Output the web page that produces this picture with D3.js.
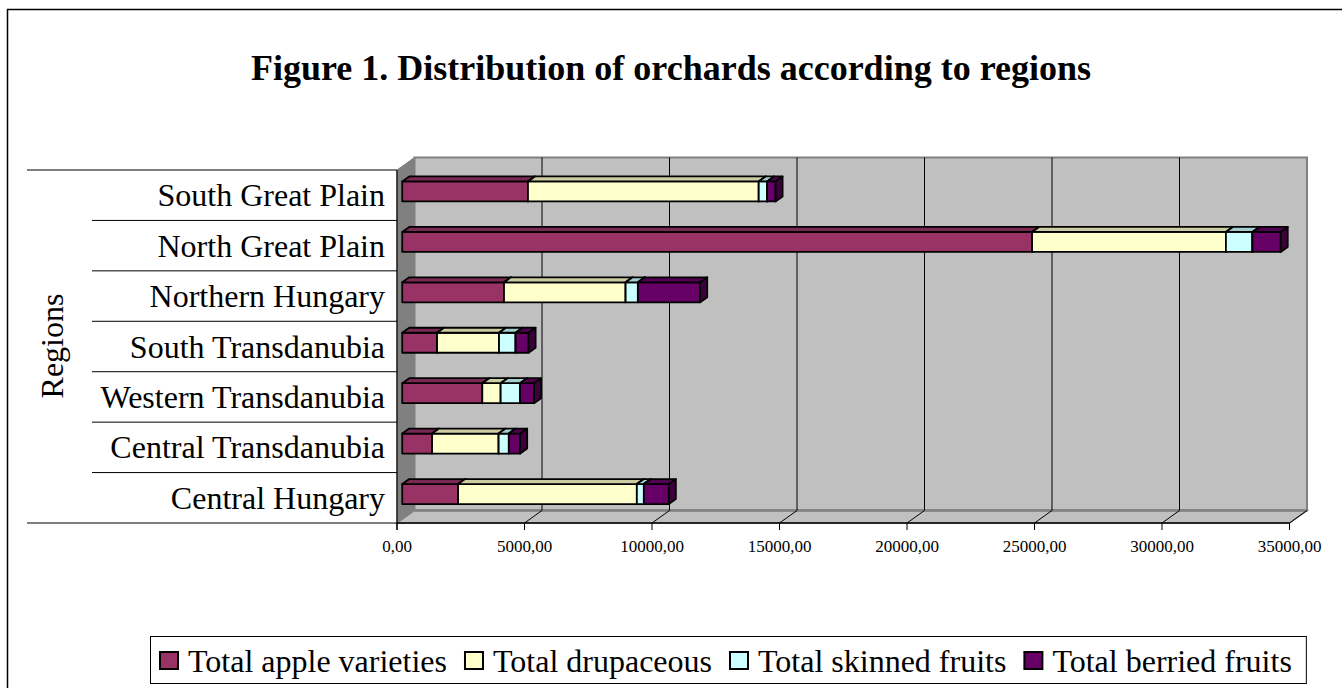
<!DOCTYPE html>
<html><head><meta charset="utf-8">
<script src="https://cdn.jsdelivr.net/npm/d3@7"></script>
<style>html,body{margin:0;padding:0;background:#fff;}svg{display:block;}</style>
</head><body>
<svg id="c" width="1342" height="688"></svg>
<script>
// ---- data ----
const regions = ["South Great Plain","North Great Plain","Northern Hungary","South Transdanubia","Western Transdanubia","Central Transdanubia","Central Hungary"];
const seriesNames = ["Total apple varieties","Total drupaceous","Total skinned fruits","Total berried fruits"];
const apple      = [4930, 24700, 3990, 1365, 3140, 1170, 2190];
const drupaceous = [9050, 7600, 4770, 2430, 720, 2610, 7010];
const skinned    = [330, 1040, 480, 650, 760, 400, 275];
const berried    = [330, 1110, 2445, 510, 550, 445, 980];
const xTicks = [0,5000,10000,15000,20000,25000,30000,35000];
const colors = ["#993366","#FFFFCC","#CCFFFF","#660066"];

const svg = d3.select("#c");
const serif = "'Liberation Serif','Times New Roman',serif";

// outer border
svg.append("rect").attr("x",7.5).attr("y",9.5).attr("width",1400).attr("height",800)
  .attr("fill","none").attr("stroke","#000").attr("stroke-width",1.5);

// title
svg.append("text").attr("x",671).attr("y",80).attr("text-anchor","middle")
  .attr("font-family",serif).attr("font-weight","bold").attr("font-size",36)
  .text("Figure 1. Distribution of orchards according to regions");

// scales
const x = d3.scaleLinear().domain([0,35000]).range([397,1289.5]);
const y = d3.scaleBand().domain(regions).range([170,523]);
const D = [17.5,-12.5]; // depth vector
const x0 = 397, x1 = x(35000), yT = 170, yB = 523;

// walls
const g = svg.append("g");
g.append("rect").attr("x",x0+D[0]).attr("y",yT+D[1]).attr("width",x1-x0).attr("height",yB-yT)
  .attr("fill","#C0C0C0").attr("stroke","#808080").attr("stroke-width",2);
g.append("polygon").attr("points",[[x0,yT],[x0+D[0],yT+D[1]],[x0+D[0],yB+D[1]],[x0,yB]].join(" "))
  .attr("fill","#808080").attr("stroke","#808080").attr("stroke-width",1);
g.append("polygon").attr("points",[[x0,yB],[x1,yB],[x1+D[0],yB+D[1]],[x0+D[0],yB+D[1]]].join(" "))
  .attr("fill","#C0C0C0").attr("stroke","#808080").attr("stroke-width",1.5);
g.append("line").attr("x1",x0+D[0]).attr("x2",x1+D[0]).attr("y1",yB+D[1]).attr("y2",yB+D[1])
  .attr("stroke","#808080").attr("stroke-width",2.5);

// gridlines on back wall + floor diagonals
xTicks.slice(1).forEach(v=>{
  if (v<35000) g.append("line").attr("x1",x(v)+D[0]).attr("x2",x(v)+D[0]).attr("y1",yT+D[1]).attr("y2",yB+D[1])
    .attr("stroke","#000").attr("stroke-width",1);
  g.append("line").attr("x1",x(v)).attr("y1",yB).attr("x2",x(v)+D[0]).attr("y2",yB+D[1])
    .attr("stroke","#000").attr("stroke-width",1);
});

// x axis
g.append("line").attr("x1",x0).attr("x2",x1).attr("y1",yB).attr("y2",yB).attr("stroke","#000").attr("stroke-width",1.5);
xTicks.forEach(v=>{
  g.append("line").attr("x1",x(v)).attr("x2",x(v)).attr("y1",yB).attr("y2",yB+7).attr("stroke","#000").attr("stroke-width",1);
  g.append("text").attr("x",x(v)).attr("y",552).attr("text-anchor","middle")
    .attr("font-family",serif).attr("font-size",17).text(d3.format(".2f")(v).replace(".",","));
});

// category axis lines
g.append("line").attr("x1",x0).attr("x2",x0).attr("y1",yT).attr("y2",yB+7).attr("stroke","#000").attr("stroke-width",1.2);
const bounds = [yT].concat(regions.map(r=>y(r)+y.bandwidth()));
bounds.forEach((b,i)=>{
  const left = (i===0 || i===bounds.length-1) ? 27 : 92;
  g.append("line").attr("x1",left).attr("x2",x0).attr("y1",b).attr("y2",b).attr("stroke","#000").attr("stroke-width",1);
});
regions.forEach(r=>{
  g.append("text").attr("x",385).attr("y",y(r)+y.bandwidth()/2+11).attr("text-anchor","end")
    .attr("font-family",serif).attr("font-size",32).text(r);
});
svg.append("text").attr("transform","translate(63,346) rotate(-90)").attr("text-anchor","middle")
  .attr("font-family",serif).attr("font-size",32).text("Regions");

// bars
const shade = (c,k)=>{const o=d3.rgb(c);return d3.rgb(o.r*k,o.g*k,o.b*k).formatHex();};
const series = [apple, drupaceous, skinned, berried];
const fo = [D[0]*0.3, D[1]*0.3];
const bd = [D[0]*0.4, D[1]*0.4];
const bh = 20;
const bars = svg.append("g").attr("stroke","#000").attr("stroke-width",1.8).attr("stroke-linejoin","round");
regions.forEach((r,i)=>{
  let cum = 0;
  const cy = y(r)+y.bandwidth()/2+fo[1];
  const top = cy-bh/2, bot = cy+bh/2;
  series.forEach((s,k)=>{
    const a = x(cum)+fo[0], b = x(cum+s[i])+fo[0];
    cum += s[i];
    bars.append("rect").attr("x",a).attr("y",top).attr("width",b-a).attr("height",bh).attr("fill",colors[k]);
    bars.append("polygon").attr("points",[[a,top],[a+bd[0],top+bd[1]],[b+bd[0],top+bd[1]],[b,top]].join(" "))
      .attr("fill",shade(colors[k],0.8));
    bars.append("polygon").attr("points",[[b,top],[b+bd[0],top+bd[1]],[b+bd[0],bot+bd[1]],[b,bot]].join(" "))
      .attr("fill",shade(colors[k],0.6));
  });
});

// legend
const lg = svg.append("g");
const box = lg.append("rect").attr("x",150.5).attr("y",636.5).attr("height",47).attr("fill","#fff").attr("stroke","#000").attr("stroke-width",1);
let lx = 160;
seriesNames.forEach((n,k)=>{
  lg.append("rect").attr("x",lx).attr("y",652).attr("width",18).attr("height",17).attr("fill",colors[k])
    .attr("stroke","#000").attr("stroke-width",2);
  const t = lg.append("text").attr("x",lx+28).attr("y",672).attr("font-family",serif).attr("font-size",32).text(n);
  lx += 28 + t.node().getComputedTextLength() + 18;
});
box.attr("width", lx - 150 - 4);
</script>
</body></html>
